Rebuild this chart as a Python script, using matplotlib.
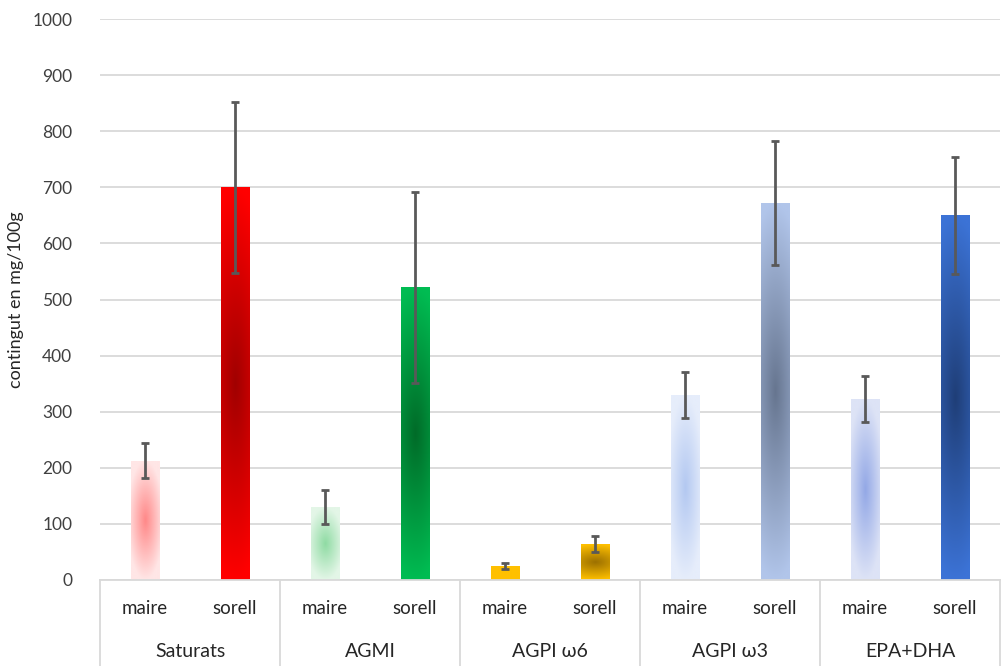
import matplotlib
matplotlib.use('Agg')
import matplotlib.pyplot as plt
import matplotlib.transforms as mtransforms
from matplotlib.colors import to_rgb
import numpy as np

plt.rcParams['font.family'] = ['Lato', 'DejaVu Sans']

groups = ['Saturats', 'AGMI', 'AGPI ω6', 'AGPI ω3', 'EPA+DHA']
subs = ['maire', 'sorell']
maire = [213, 130, 25, 329, 322]
maire_err = [32, 30, 5, 41, 41]
sorell = [700, 522, 64, 672, 650]
sorell_err = [152, 170, 14, 110, 104]

# (edge colour, centre colour) of each gradient
maire_cols = [('#FFE6E6', '#FF8888'), ('#E3F6E7', '#8FDBA3'), ('#FFC000', '#FFC000'),
              ('#E6EDFB', '#B3C8F1'), ('#DDE3F6', '#93A8E6')]
sorell_cols = [('#FF0000', '#A00000'), ('#00BC52', '#006B28'), ('#FFC000', '#9C7000'),
               ('#B1C5EA', '#66758F'), ('#3C73D6', '#1F3E77')]


def gradient_bar(ax, patch, c_edge, c_mid, wx):
    x0, y0 = patch.get_x(), patch.get_y()
    w, h = patch.get_width(), patch.get_height()
    nx, ny = 40, 200
    xx = np.linspace(-1, 1, nx)
    yy = np.linspace(-1, 1, ny)
    X, Y = np.meshgrid(xx, yy)
    t = np.clip(np.sqrt(wx * X ** 2 + Y ** 2), 0, 1)[..., None]
    e = np.array(to_rgb(c_edge))
    m = np.array(to_rgb(c_mid))
    img = m * (1 - t) + e * t
    im = ax.imshow(img, extent=(x0, x0 + w, y0, y0 + h), aspect='auto',
                   origin='lower', zorder=2, interpolation='bilinear')
    im.set_clip_path(patch)


fig = plt.figure(figsize=(10.02, 6.66), dpi=100)
ax = fig.add_axes([100 / 1002, 86 / 666, 900 / 1002, 561 / 666])

x_m = np.arange(len(groups)) * 2
x_s = x_m + 1
width = 0.32
bars_m = ax.bar(x_m, maire, width, color='none', zorder=2)
bars_s = ax.bar(x_s, sorell, width, color='none', zorder=2)
for b, (ce, cm) in zip(bars_m, maire_cols):
    gradient_bar(ax, b, ce, cm, 0.6)
for b, (ce, cm) in zip(bars_s, sorell_cols):
    gradient_bar(ax, b, ce, cm, 0.15)

ax.errorbar(x_m, maire, yerr=maire_err, fmt='none', ecolor='#595959',
            elinewidth=2, capsize=2.8, capthick=2, zorder=3)
ax.errorbar(x_s, sorell, yerr=sorell_err, fmt='none', ecolor='#595959',
            elinewidth=2, capsize=2.8, capthick=2, zorder=3)

ax.set_xlim(-0.5, 9.5)
ax.set_ylim(0, 1000)
ax.set_yticks(np.arange(0, 1001, 100))
ax.yaxis.grid(True, color='#D9D9D9', linewidth=1.3, zorder=0)
ax.set_axisbelow(True)
for s in ['top', 'right', 'left']:
    ax.spines[s].set_visible(False)
ax.spines['bottom'].set_color('#D9D9D9')
ax.spines['bottom'].set_linewidth(1.3)
ax.tick_params(axis='y', length=0, labelsize=12.5, labelcolor='#404040', pad=20)
ax.set_xticks([])
ax.set_ylabel('contingut en mg/100g', fontsize=13, color='#262626', labelpad=6)

trans = mtransforms.blended_transform_factory(ax.transData, ax.transAxes)
for i, g in enumerate(groups):
    ax.text(x_m[i], -0.05, subs[0], transform=trans, ha='center', va='center',
            fontsize=13.5, color='#262626')
    ax.text(x_s[i], -0.05, subs[1], transform=trans, ha='center', va='center',
            fontsize=13.5, color='#262626')
    ax.text(x_m[i] + 0.5, -0.128, g, transform=trans, ha='center', va='center',
            fontsize=14, color='#262626')
for xb in np.arange(-0.5, 10, 2):
    ax.plot([xb, xb], [0, -0.16], transform=trans, color='#D9D9D9',
            linewidth=1.3, clip_on=False)

fig.savefig('out.png', dpi=100)
